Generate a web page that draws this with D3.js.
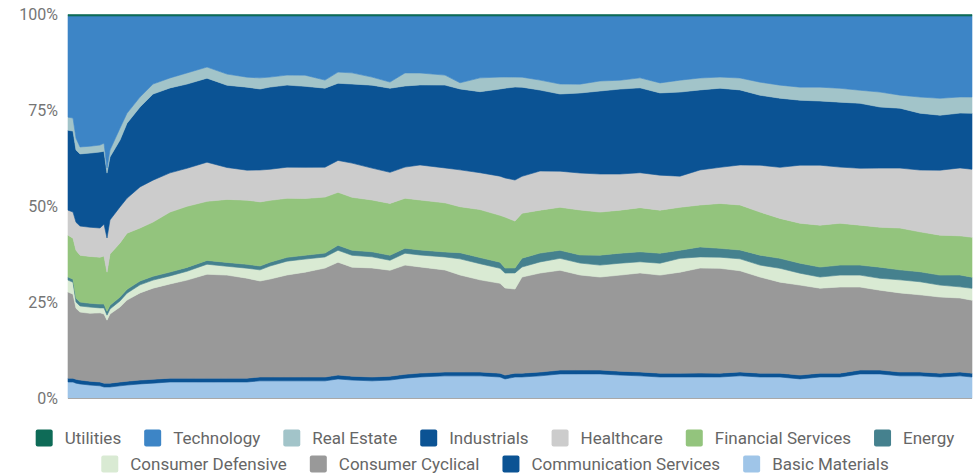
<!DOCTYPE html>
<html>
<head>
<meta charset="utf-8">
<script src="https://cdn.jsdelivr.net/npm/d3@7"></script>
<style>
  html, body { margin: 0; padding: 0; background: #fff; }
  svg { display: block; font-family: Roboto, "Noto Sans", sans-serif; }
</style>
</head>
<body>
<svg id="chart" width="975" height="475"></svg>
<script>
// Trading-day offsets of each sample
const days = [0,5,8,12,22,32,36,39,42,52,59,72,85,102,119,139,159,179,192,202,219,237,257,270,284,304,322,337,352,377,392,412,432,437,447,454,472,492,512,532,552,572,592,612,632,652,672,692,712,732,752,772,792,812,832,852,872,892,904];

// Sector weights (% of portfolio)
const basicMaterials = [4.3,4.3,4.0,3.8,3.5,3.3,3.0,3.0,3.0,3.3,3.5,3.8,4.0,4.3,4.3,4.3,4.3,4.3,4.6,4.6,4.6,4.6,4.6,5.1,4.8,4.6,4.8,5.3,5.6,5.9,5.9,5.9,5.6,5.1,5.6,5.6,5.9,6.4,6.4,6.4,6.1,5.9,5.6,5.6,5.6,5.6,5.9,5.6,5.6,5.1,5.6,5.6,6.4,6.4,5.9,5.9,5.6,5.9,5.6];
const communicationServices = [1.0,1.0,1.0,1.0,1.0,1.0,1.0,1.0,1.0,1.0,1.0,1.0,1.0,1.0,1.0,1.0,1.0,1.0,1.0,1.0,1.0,1.0,1.0,1.0,1.0,1.0,1.0,1.0,1.0,1.0,1.0,1.0,1.0,1.0,1.0,1.0,1.0,1.0,1.0,1.0,1.0,1.0,1.0,1.0,1.0,1.0,1.0,1.0,1.0,1.0,1.0,1.0,1.0,1.0,1.0,1.0,1.0,1.0,1.0];
const consumerCyclical = [22.4,21.9,18.5,17.7,17.7,18.0,18.0,16.4,18.0,19.5,21.1,22.7,23.7,24.5,25.5,27.1,26.8,26.0,25.0,25.5,26.6,27.3,28.4,29.4,28.4,28.4,27.6,28.4,27.6,26.6,25.3,24.0,23.4,22.7,21.9,25.0,25.8,26.0,24.7,24.2,25.0,25.8,25.5,26.3,27.3,27.3,26.3,25.0,23.7,23.4,22.1,22.4,21.6,20.8,20.6,20.1,19.8,19.3,19.0];
const consumerDefensive = [3.1,3.1,1.6,1.6,1.6,1.3,1.6,1.3,1.3,1.6,1.8,2.1,2.1,2.1,2.3,2.6,2.3,2.6,2.9,3.4,3.6,3.4,2.9,3.1,3.1,2.9,2.6,3.1,3.1,3.4,4.2,4.2,3.9,3.9,4.2,2.6,2.9,3.1,3.1,3.1,3.1,2.9,3.1,3.6,2.9,2.9,3.1,3.1,3.6,3.1,2.9,3.1,3.1,3.1,3.4,3.4,3.1,2.9,3.1];
const energy = [0.8,0.8,1.0,1.0,1.0,1.0,1.0,1.0,1.0,1.0,1.0,1.0,1.0,1.0,1.0,1.0,1.0,1.0,1.0,1.0,1.0,1.0,1.0,1.3,1.3,1.3,1.3,1.3,1.3,1.3,1.6,1.6,1.6,1.3,1.3,2.3,2.3,2.1,2.1,2.6,2.6,2.6,2.6,2.1,2.6,2.3,2.3,2.6,2.6,2.6,2.6,2.6,2.6,2.9,2.6,2.6,2.6,3.1,2.9];
const financialServices = [10.9,10.7,12.5,12.2,12.2,12.2,12.5,10.2,13.3,14.1,14.6,13.8,14.1,15.6,15.9,15.4,16.4,16.7,16.7,16.1,15.4,14.8,14.6,13.8,13.8,13.5,13.5,13.0,13.0,12.8,12.0,12.5,12.2,13.3,12.2,11.7,11.2,11.2,11.7,11.2,11.2,11.5,11.2,11.2,10.9,11.7,11.7,11.2,10.4,10.4,10.9,10.9,10.4,10.4,10.9,10.4,10.4,10.2,10.4];
const healthcare = [6.5,6.8,7.3,7.6,7.6,7.6,8.3,8.9,8.9,9.4,9.1,10.7,10.9,10.2,9.9,10.2,8.3,7.8,8.3,8.1,8.1,8.1,7.8,8.3,8.9,8.3,8.1,8.1,9.1,9.1,9.6,9.6,10.2,10.2,10.7,9.6,10.2,9.4,9.6,9.9,9.4,9.1,9.1,8.1,9.1,9.4,10.4,12.2,13.3,15.1,15.6,14.6,14.8,15.4,15.6,16.1,16.9,17.7,17.7];
const industrials = [20.8,21.1,18.8,18.8,19.3,19.8,19.0,16.9,16.4,17.4,19.5,20.8,22.4,22.1,21.9,21.9,21.4,21.6,21.1,21.4,21.4,21.1,20.6,20.1,20.6,21.6,21.9,21.1,20.8,21.6,21.1,21.1,22.7,23.4,24.2,23.2,21.1,20.1,20.8,21.6,22.1,22.1,21.4,21.9,20.8,20.6,19.5,18.2,18.0,16.9,16.7,16.9,16.9,15.9,15.6,14.8,14.3,14.3,14.6];
const realEstate = [3.4,3.4,3.1,1.8,1.8,1.8,2.1,1.3,1.8,3.1,2.6,2.6,2.6,2.6,2.9,2.9,2.9,2.6,2.9,2.6,2.6,2.9,2.1,2.9,2.9,2.1,1.6,3.4,3.1,2.6,1.6,3.6,3.1,2.9,2.6,2.6,2.6,2.6,2.3,2.6,2.3,2.6,2.6,3.1,3.1,2.9,3.1,3.4,3.4,3.4,3.6,3.6,3.4,3.9,3.4,4.2,4.4,4.2,4.2];
const technology = [26.3,26.6,31.8,34.1,33.9,33.6,33.1,39.6,34.9,29.2,25.3,21.1,17.7,16.1,14.8,13.3,15.1,15.9,16.1,15.9,15.4,15.4,16.7,14.6,14.8,15.9,17.2,14.8,14.8,15.4,17.4,16.1,15.9,15.9,15.9,15.9,16.7,17.7,17.7,16.9,16.7,16.1,17.4,16.7,16.1,15.9,16.1,17.2,18.0,18.5,18.5,18.8,19.3,19.8,20.6,21.1,21.4,21.1,21.1];
const utilities = [0.4,0.4,0.4,0.4,0.4,0.4,0.4,0.4,0.4,0.4,0.4,0.4,0.4,0.4,0.4,0.4,0.4,0.4,0.4,0.4,0.4,0.4,0.4,0.4,0.4,0.4,0.4,0.4,0.4,0.4,0.4,0.4,0.4,0.4,0.4,0.4,0.4,0.4,0.4,0.4,0.4,0.4,0.4,0.4,0.4,0.4,0.4,0.4,0.4,0.4,0.4,0.4,0.4,0.4,0.4,0.4,0.4,0.4,0.4];

// Stack order, bottom to top
const sectors = ["Basic Materials","Communication Services","Consumer Cyclical","Consumer Defensive","Energy","Financial Services","Healthcare","Industrials","Real Estate","Technology","Utilities"];
const seriesValues = [basicMaterials, communicationServices, consumerCyclical, consumerDefensive, energy, financialServices, healthcare, industrials, realEstate, technology, utilities];
const sectorColors = ["#9fc5e8","#0b5394","#999999","#d9ead3","#45818e","#93c47d","#cccccc","#0b5394","#a2c4c9","#3d85c6","#0e6b57"];

// Axis tick values
const yTicks = [0, 0.25, 0.5, 0.75, 1];

const rows = days.map((d, i) => {
  const r = { day: d };
  sectors.forEach((s, k) => { r[s] = seriesValues[k][i]; });
  return r;
});

const svg = d3.select("#chart");
const plot = { left: 68, right: 972, top: 14.5, bottom: 398.5 };

const x = d3.scaleLinear().domain(d3.extent(days)).range([plot.left, plot.right]);
const y = d3.scaleLinear().domain([0, 1]).range([plot.bottom, plot.top]);
const color = d3.scaleOrdinal().domain(sectors).range(sectorColors);

const stacked = d3.stack().keys(sectors).offset(d3.stackOffsetExpand)(rows);

const area = d3.area()
  .x(d => x(d.data.day))
  .y0(d => y(d[0]))
  .y1(d => y(d[1]));

svg.append("g")
  .selectAll("path")
  .data(stacked)
  .join("path")
  .attr("d", area)
  .attr("fill", d => color(d.key))
  .attr("stroke", d => color(d.key))
  .attr("stroke-width", 0.6);

// Baseline
svg.append("line")
  .attr("x1", plot.left).attr("x2", plot.right)
  .attr("y1", plot.bottom).attr("y2", plot.bottom)
  .attr("stroke", "#a8a8a8").attr("stroke-width", 1);

// Y axis labels
const yAxis = d3.axisLeft(y).tickValues(yTicks).tickFormat(d3.format(".0%")).tickSize(0).tickPadding(10);
const yg = svg.append("g").attr("transform", `translate(${plot.left},0)`).call(yAxis);
yg.select(".domain").remove();
yg.selectAll("text").attr("fill", "#757575").style("font-size", "16px").style("font-family", "Roboto, sans-serif");

// Legend (top series first), wrapped into centred rows
const legendItems = sectors.slice().reverse();
const legend = svg.append("g");
const sw = 17, swGap = 12, itemGap = 23, maxRow = 935, centerX = 495;
const rowY = [438, 464];
const measured = legendItems.map(name => {
  const g = legend.append("g");
  g.append("rect").attr("width", sw).attr("height", sw).attr("rx", 2).attr("y", -sw / 2).attr("fill", color(name));
  const t = g.append("text").attr("x", sw + swGap).attr("dy", "0.35em")
    .attr("fill", "#666").style("font-size", "17px").text(name);
  return { g, w: sw + swGap + t.node().getComputedTextLength() };
});
const lines = [];
let cur = [], curW = 0;
measured.forEach(m => {
  const add = (cur.length ? itemGap : 0) + m.w;
  if (cur.length && curW + add > maxRow) { lines.push({ items: cur, w: curW }); cur = []; curW = 0; }
  curW += (cur.length ? itemGap : 0) + m.w;
  cur.push(m);
});
if (cur.length) lines.push({ items: cur, w: curW });
lines.forEach((ln, li) => {
  let xx = centerX - ln.w / 2;
  ln.items.forEach(m => {
    m.g.attr("transform", `translate(${xx},${rowY[li] || rowY[0] + 26 * li})`);
    xx += m.w + itemGap;
  });
});
</script>
</body>
</html>
